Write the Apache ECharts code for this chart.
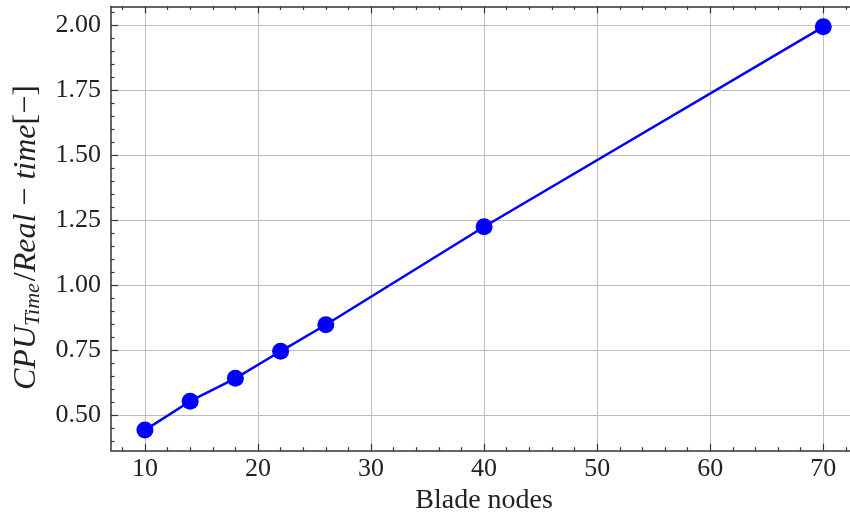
<!DOCTYPE html>
<html>
<head>
<meta charset="utf-8">
<script src="https://cdn.jsdelivr.net/npm/echarts@6/dist/echarts.min.js"></script>
<style>html,body{margin:0;padding:0;background:#fff;}#c{width:850px;height:513px;}</style>
</head>
<body>
<div id="c"></div>
<script>
var bladeNodes = [10, 14, 18, 22, 26, 40, 70];
var cpuRatio = [0.442, 0.553, 0.641, 0.745, 0.847, 1.224, 1.993];
var xMajor = [10, 20, 30, 40, 50, 60, 70];
var xMinor = [8, 12, 14, 16, 18, 22, 24, 26, 28, 32, 34, 36, 38, 42, 44, 46, 48, 52, 54, 56, 58, 62, 64, 66, 68, 72];
var yMajor = [0.5, 0.75, 1.0, 1.25, 1.5, 1.75, 2.0];
var yMinor = [0.4, 0.45, 0.55, 0.6, 0.65, 0.7, 0.8, 0.85, 0.9, 0.95, 1.05, 1.1, 1.15, 1.2, 1.3, 1.35, 1.4, 1.45, 1.55, 1.6, 1.65, 1.7, 1.8, 1.85, 1.9, 1.95, 2.05];

var FONT = '"Liberation Serif", "DejaVu Serif", serif';
var spine = '#333333';
var xMin = 7, xMax = 73, yMin = 0.3625, yMax = 2.0715;

function xAx(pos, vals, len, showLine, labels, split, extra) {
  var a = {
    type: 'value', position: pos, min: xMin, max: xMax, gridIndex: 0,
    axisLine: {show: showLine, onZero: false, lineStyle: {color: spine, width: 1.5}},
    axisTick: {show: true, inside: true, length: len, customValues: vals, lineStyle: {color: spine, width: 1.2}},
    minorTick: {show: false},
    axisLabel: labels ? {show: true, customValues: vals, margin: 5, color: '#222', fontFamily: FONT, fontSize: 26} : {show: false},
    splitLine: {show: split, lineStyle: {color: '#bdbdbd', width: 1}}
  };
  if (extra) for (var k in extra) a[k] = extra[k];
  return a;
}
function yAx(pos, vals, len, showLine, labels, split, extra) {
  var a = {
    type: 'value', position: pos, min: yMin, max: yMax, gridIndex: 0,
    axisLine: {show: showLine, onZero: false, lineStyle: {color: spine, width: 1.5}},
    axisTick: {show: true, inside: true, length: len, customValues: vals, lineStyle: {color: spine, width: 1.2}},
    minorTick: {show: false},
    axisLabel: labels ? {show: true, customValues: vals, margin: 10, color: '#222', fontFamily: FONT, fontSize: 26,
      formatter: function (v) { return v.toFixed(2); }} : {show: false},
    splitLine: {show: split, lineStyle: {color: '#bdbdbd', width: 1}}
  };
  if (extra) for (var k in extra) a[k] = extra[k];
  return a;
}

var chart = echarts.init(document.getElementById('c'), null, {renderer: 'canvas'});
chart.setOption({
  animation: false,
  backgroundColor: '#ffffff',
  grid: {left: 111, right: -7.2, top: 6.4, bottom: 62.25, containLabel: false, outerBoundsMode: 'none'},
  xAxis: [
    xAx('bottom', xMajor, 7, true, true, true, {
      name: 'Blade nodes', nameLocation: 'middle', nameGap: 30,
      nameTextStyle: {fontFamily: FONT, fontSize: 28, color: '#222'}
    }),
    xAx('bottom', xMinor, 3.5, false, false, false),
    xAx('top', xMajor, 7, true, false, false),
    xAx('top', xMinor, 3.5, false, false, false)
  ],
  yAxis: [
    yAx('left', yMajor, 7, true, true, true, {
      name: '{i|CPU}{s|Time}{u|/}{i|Real}{u| − }{i|time}{u|[−]}',
      nameLocation: 'middle', nameGap: 64, nameRotate: 90,
      nameTextStyle: {
        fontFamily: FONT, fontSize: 32, color: '#222', padding: [0, 18, 0, 0],
        rich: {
          i: {fontFamily: FONT, fontStyle: 'italic', fontSize: 32, color: '#222'},
          u: {fontFamily: FONT, fontSize: 32, color: '#222'},
          s: {fontFamily: FONT, fontStyle: 'italic', fontSize: 22, color: '#222', padding: [15, 2, 0, 0]}
        }
      }
    }),
    yAx('left', yMinor, 3.5, false, false, false),
    yAx('right', yMajor, 7, true, false, false),
    yAx('right', yMinor, 3.5, false, false, false)
  ],
  series: [{
    type: 'line',
    xAxisIndex: 0, yAxisIndex: 0,
    data: bladeNodes.map(function (x, i) { return [x, cpuRatio[i]]; }),
    symbol: 'circle', symbolSize: 17,
    lineStyle: {color: '#0000ff', width: 2.5},
    itemStyle: {color: '#0000ff'},
    z: 5
  }]
});
</script>
</body>
</html>
